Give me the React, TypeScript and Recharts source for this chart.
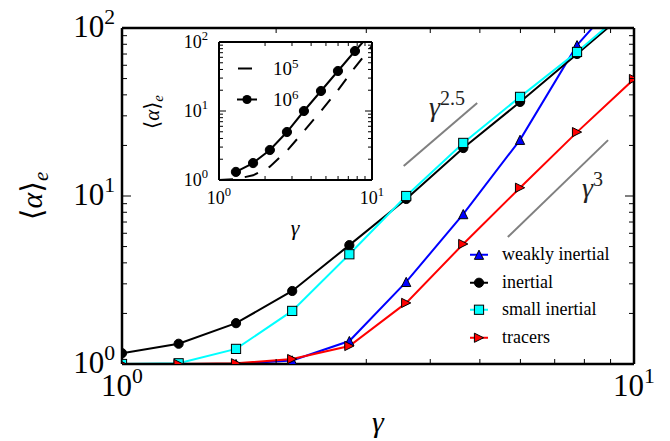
import { LineChart, Line, XAxis, YAxis, Legend, CartesianGrid, Customized } from 'recharts'

// main panel: <alpha>_e against gamma (log-log)
const gamma = [1.0, 1.29, 1.67, 2.15, 2.78, 3.59, 4.64, 5.99, 7.74, 10.0]
const weaklyInertial = [1.0, 1.0, 1.0, 1.05, 1.37, 3.08, 7.8, 21.6, 79, 190]
const inertial = [1.16, 1.32, 1.75, 2.72, 5.1, 9.6, 19.3, 36.3, 70, 136]
const smallInertial = [1.0, 1.01, 1.23, 2.07, 4.5, 10.0, 20.7, 38.9, 72, 140]
const tracers = [1.0, 1.0, 1.01, 1.07, 1.28, 2.31, 5.18, 11.2, 24.0, 49.7]

// guide lines
const slope25Gamma = [3.55, 4.94]
const slope25Value = [15.1, 35.8]
const slope3Gamma = [5.67, 8.9]
const slope3Value = [5.7, 21.5]

// inset: two Reynolds numbers
const insetGamma6 = [1.29, 1.67, 2.15, 2.78, 3.59, 4.64, 5.99, 7.74, 10.0]
const insetRe6 = [1.31, 1.76, 2.72, 4.96, 10.0, 19.5, 38, 74, 140]
const insetGamma5 = [1.0, 1.29, 1.67, 2.15, 2.78, 3.59, 4.64, 5.99, 7.74, 10.0]
const insetRe5 = [1.0, 1.03, 1.17, 1.56, 2.65, 5.1, 10.0, 20.0, 43, 88]

const xTicks = [1, 2, 3, 4, 5, 6, 7, 8, 9, 10]
const yTicks = [1, 2, 3, 4, 5, 6, 7, 8, 9, 10, 20, 30, 40, 50, 60, 70, 80, 90, 100]
const majorTicks = [1, 10, 100]

const FONT = 'Liberation Serif, Times New Roman, Times, DejaVu Serif, Noto Serif, serif'

const toPoints = (xs: number[], ys: number[]) => xs.map((x, i) => ({ x, y: ys[i] }))

type Side = 'bottom' | 'top' | 'left' | 'right'

function makeTick(side: Side, majorLen: number, minorLen: number, label?: { size: number; gap: number; base: number }) {
    return (props: any) => {
        const { x, y, payload } = props
        const v = payload.value
        const major = majorTicks.includes(v)
        const len = major ? majorLen : minorLen
        let x2 = x
        let y2 = y
        if (side === 'bottom') y2 = y - len
        if (side === 'top') y2 = y + len
        if (side === 'left') x2 = x + len
        if (side === 'right') x2 = x - len
        const exp = Math.round(Math.log10(v))
        let text = null
        if (label && major) {
            const sup = (
                <tspan dy={-label.size * 0.42} fontSize={label.size * 0.7}>
                    {exp}
                </tspan>
            )
            text =
                side === 'bottom' ? (
                    <text x={x} y={y + label.gap} textAnchor="middle" fontSize={label.size} style={{ fontFamily: FONT }} fill="#000">
                        10{sup}
                    </text>
                ) : (
                    <text x={x - label.gap} y={y + label.base} textAnchor="end" fontSize={label.size} style={{ fontFamily: FONT }} fill="#000">
                        10{sup}
                    </text>
                )
        }
        return (
            <g>
                <line x1={x} y1={y} x2={x2} y2={y2} stroke="#000" strokeWidth={1} />
                {text}
            </g>
        )
    }
}

const S = 4.6

function Marker({ kind, cx, cy, fill }: { kind: string; cx: number; cy: number; fill: string }) {
    if (cx == null || cy == null) return null
    if (kind === 'circle') return <circle cx={cx} cy={cy} r={S} fill={fill} stroke="#000" strokeWidth={1} />
    if (kind === 'square')
        return <rect x={cx - S} y={cy - S} width={2 * S} height={2 * S} fill={fill} stroke="#000" strokeWidth={1} />
    if (kind === 'up')
        return (
            <polygon
                points={`${cx},${cy - S} ${cx - S},${cy + S} ${cx + S},${cy + S}`}
                fill={fill}
                stroke="#000"
                strokeWidth={1}
            />
        )
    return (
        <polygon
            points={`${cx + S},${cy} ${cx - S},${cy - S} ${cx - S},${cy + S}`}
            fill={fill}
            stroke="#000"
            strokeWidth={1}
        />
    )
}

const series = [
    { name: 'weakly inertial', values: weaklyInertial, color: '#0000ff', marker: 'up' },
    { name: 'inertial', values: inertial, color: '#000000', marker: 'circle' },
    { name: 'small inertial', values: smallInertial, color: '#00ffff', marker: 'square' },
    { name: 'tracers', values: tracers, color: '#ff0000', marker: 'right' },
]

function MainLegend() {
    return (
        <div style={{ fontFamily: FONT, fontSize: 18, color: '#000' }}>
            {series.map((s) => (
                <div key={s.name} style={{ display: 'flex', alignItems: 'center', height: 27.5 }}>
                    <svg width={22} height={27.5}>
                        <line x1={2} y1={13.75} x2={20} y2={13.75} stroke={s.color} strokeWidth={2} />
                        <Marker kind={s.marker} cx={11} cy={13.75} fill={s.color} />
                    </svg>
                    <span style={{ marginLeft: 12 }}>{s.name}</span>
                </div>
            ))}
        </div>
    )
}

function InsetLegend() {
    return (
        <div style={{ fontFamily: FONT, fontSize: 19, color: '#000' }}>
            <div style={{ display: 'flex', alignItems: 'center', height: 31 }}>
                <svg width={24} height={31}>
                    <line x1={3} y1={15.5} x2={23} y2={15.5} stroke="#000" strokeWidth={2} strokeDasharray="14 12" />
                </svg>
                <span style={{ marginLeft: 14 }}>
                    10<sup style={{ fontSize: 13 }}>5</sup>
                </span>
            </div>
            <div style={{ display: 'flex', alignItems: 'center', height: 31 }}>
                <svg width={24} height={31}>
                    <line x1={2} y1={15.5} x2={22} y2={15.5} stroke="#000" strokeWidth={2} />
                    <circle cx={12} cy={15.5} r={S} fill="#000" />
                </svg>
                <span style={{ marginLeft: 14 }}>
                    10<sup style={{ fontSize: 13 }}>6</sup>
                </span>
            </div>
        </div>
    )
}

function MainTexts() {
    return (
        <g style={{ fontFamily: FONT }} fill="#000">
            <text x={378} y={432} textAnchor="middle" fontSize={30} fontStyle="italic">
                γ
            </text>
            <text transform="translate(42,196) rotate(-90)" textAnchor="middle" fontSize={30}>
                ⟨<tspan fontStyle="italic">α</tspan>⟩
                <tspan dy={6} fontSize={21} fontStyle="italic">
                    e
                </tspan>
            </text>
            <text x={429} y={116} fontSize={28} fill="#222">
                <tspan fontStyle="italic">γ</tspan>
                <tspan dy={-11} fontSize={20}>
                    2.5
                </tspan>
            </text>
            <text x={582} y={197} fontSize={28} fill="#222">
                <tspan fontStyle="italic">γ</tspan>
                <tspan dy={-11} fontSize={20}>
                    3
                </tspan>
            </text>
        </g>
    )
}

function InsetTexts() {
    return (
        <g style={{ fontFamily: FONT }} fill="#000">
            <text x={295} y={235} textAnchor="middle" fontSize={22} fontStyle="italic">
                γ
            </text>
            <text transform="translate(159,112) rotate(-90)" textAnchor="middle" fontSize={21}>
                ⟨<tspan fontStyle="italic">α</tspan>⟩
                <tspan dy={4} fontSize={15} fontStyle="italic">
                    e
                </tspan>
            </text>
        </g>
    )
}

const dotFor = (marker: string, color: string) => (p: any) => (
    <Marker key={p.index} kind={marker} cx={p.cx} cy={p.cy} fill={color} />
)

export default function App() {
    const mainAxis = { type: 'number' as const, scale: 'log' as const, allowDataOverflow: true, interval: 0 as const, tickSize: 0, tickMargin: 0, tickLine: false }
    return (
        <div style={{ position: 'absolute', left: 0, top: 0, width: 670, height: 441, background: '#fff', fontFamily: FONT }}>
            <div style={{ position: 'absolute', left: 0, top: 0 }}>
                <LineChart width={670} height={441} margin={{ top: 0, right: 0, bottom: 0, left: 0 }}>
                    <XAxis
                        {...mainAxis}
                        xAxisId="b"
                        dataKey="x"
                        orientation="bottom"
                        height={77}
                        domain={[1, 10]}
                        ticks={xTicks}
                        axisLine={{ stroke: '#000', strokeWidth: 2.5 }}
                        tick={makeTick('bottom', 9, 5, { size: 31, gap: 32, base: 0 })}
                    />
                    <XAxis
                        {...mainAxis}
                        xAxisId="t"
                        dataKey="x"
                        orientation="top"
                        height={28}
                        domain={[1, 10]}
                        ticks={xTicks}
                        axisLine={{ stroke: '#000', strokeWidth: 2.5 }}
                        tick={makeTick('top', 9, 5)}
                    />
                    <YAxis
                        {...mainAxis}
                        yAxisId="l"
                        orientation="left"
                        width={122}
                        domain={[1, 100]}
                        ticks={yTicks}
                        axisLine={{ stroke: '#000', strokeWidth: 2.5 }}
                        tick={makeTick('left', 9, 5, { size: 31, gap: 7, base: 9 })}
                    />
                    <YAxis
                        {...mainAxis}
                        yAxisId="r"
                        orientation="right"
                        width={36}
                        domain={[1, 100]}
                        ticks={yTicks}
                        axisLine={{ stroke: '#000', strokeWidth: 2.5 }}
                        tick={makeTick('right', 9, 5)}
                    />
                    <Line
                        xAxisId="b"
                        yAxisId="l"
                        data={toPoints(slope25Gamma, slope25Value)}
                        dataKey="y"
                        stroke="#808080"
                        strokeWidth={2}
                        dot={false}
                        isAnimationActive={false}
                    />
                    <Line
                        xAxisId="b"
                        yAxisId="l"
                        data={toPoints(slope3Gamma, slope3Value)}
                        dataKey="y"
                        stroke="#808080"
                        strokeWidth={2}
                        dot={false}
                        isAnimationActive={false}
                    />
                    {series.map((s) => (
                        <Line
                            key={s.name}
                            name={s.name}
                            xAxisId="b"
                            yAxisId="l"
                            data={toPoints(gamma, s.values)}
                            dataKey="y"
                            stroke={s.color}
                            strokeWidth={2}
                            dot={dotFor(s.marker, s.color)}
                            activeDot={false}
                            isAnimationActive={false}
                        />
                    ))}
                    <Legend
                        layout="vertical"
                        align="center"
                        verticalAlign="middle"
                        content={() => <MainLegend />}
                        wrapperStyle={{ left: 468, top: 241, width: 170 }}
                    />
                    <Customized component={MainTexts} />
                </LineChart>
            </div>
            <div style={{ position: 'absolute', left: 0, top: 0 }}>
                <LineChart width={400} height={250} margin={{ top: 0, right: 0, bottom: 0, left: 0 }}>
                    <CartesianGrid xAxisId="b" yAxisId="l" fill="#fff" horizontal={false} vertical={false} />
                    <XAxis
                        {...mainAxis}
                        xAxisId="b"
                        dataKey="x"
                        orientation="bottom"
                        height={70}
                        domain={[1, 10]}
                        ticks={xTicks}
                        axisLine={{ stroke: '#000', strokeWidth: 2 }}
                        tick={makeTick('bottom', 7, 4, { size: 18, gap: 24, base: 0 })}
                    />
                    <XAxis
                        {...mainAxis}
                        xAxisId="t"
                        dataKey="x"
                        orientation="top"
                        height={42}
                        domain={[1, 10]}
                        ticks={xTicks}
                        axisLine={{ stroke: '#000', strokeWidth: 2 }}
                        tick={makeTick('top', 7, 4)}
                    />
                    <YAxis
                        {...mainAxis}
                        yAxisId="l"
                        orientation="left"
                        width={219}
                        domain={[1, 100]}
                        ticks={yTicks}
                        axisLine={{ stroke: '#000', strokeWidth: 2 }}
                        tick={makeTick('left', 7, 4, { size: 18, gap: 11, base: 6 })}
                    />
                    <YAxis
                        {...mainAxis}
                        yAxisId="r"
                        orientation="right"
                        width={28}
                        domain={[1, 100]}
                        ticks={yTicks}
                        axisLine={{ stroke: '#000', strokeWidth: 2 }}
                        tick={makeTick('right', 7, 4)}
                    />
                    <Line
                        xAxisId="b"
                        yAxisId="l"
                        data={toPoints(insetGamma5, insetRe5)}
                        dataKey="y"
                        stroke="#000"
                        strokeWidth={2}
                        strokeDasharray="14 12"
                        dot={false}
                        activeDot={false}
                        isAnimationActive={false}
                    />
                    <Line
                        xAxisId="b"
                        yAxisId="l"
                        data={toPoints(insetGamma6, insetRe6)}
                        dataKey="y"
                        stroke="#000"
                        strokeWidth={2}
                        dot={dotFor('circle', '#000')}
                        activeDot={false}
                        isAnimationActive={false}
                    />
                    <Legend
                        layout="vertical"
                        align="center"
                        verticalAlign="middle"
                        content={() => <InsetLegend />}
                        wrapperStyle={{ left: 235, top: 53, width: 90 }}
                    />
                    <Customized component={InsetTexts} />
                </LineChart>
            </div>
        </div>
    )
}
